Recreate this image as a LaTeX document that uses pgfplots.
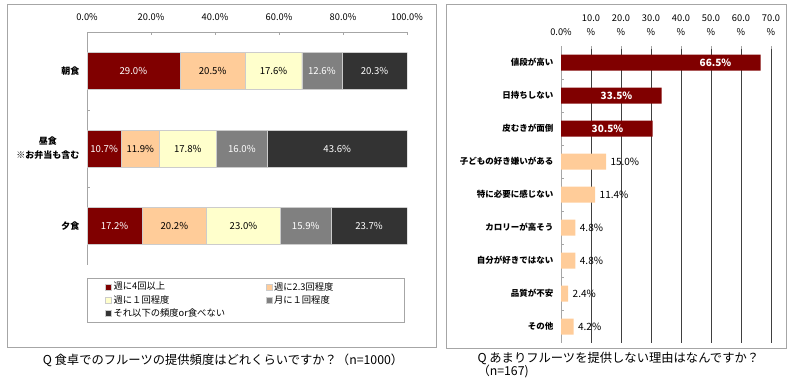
\documentclass[border=0pt]{standalone}
\usepackage{fontspec}
\setmainfont{Noto Sans CJK JP}
\usepackage{pgfplots}
\pgfplotsset{compat=1.18}
\pgfkeys{/pgf/number format/assume math mode=true}
\definecolor{c1}{HTML}{800000}
\definecolor{c2}{HTML}{FFCC99}
\definecolor{c3}{HTML}{FFFFCC}
\definecolor{c4}{HTML}{808080}
\definecolor{c5}{HTML}{333333}
\definecolor{frame}{HTML}{A6A6A6}
\newcommand{\fs}[1]{\fontsize{#1}{#1}\selectfont}
\pgfplotsset{
  seg/.style={fill=#1, draw=gray!40, line width=0.4pt},
  sqlegend/.style={legend image code/.code={\path[##1] (0pt,-3pt) rectangle (6pt,3pt);}},
  leftgeom/.style={at={(87pt,113pt)}, anchor=south west, scale only axis, width=320pt, height=233pt,
    xmin=0, xmax=100, ymin=-0.5, ymax=2.5, y dir=reverse},
  seglabel/.style={draw=none, mark=none, point meta=explicit symbolic, nodes near coords,
    nodes near coords align={anchor=center},
    every node near coord/.style={anchor=center, text=#1, font=\fs{9.6}}}
}
\begin{document}
\begin{tikzpicture}
\path[use as bounding box] (0pt,0pt) rectangle (800pt,378pt);
\draw[frame, line width=0.8pt] (7pt,31pt) rectangle (436pt,374pt);
\draw[frame, line width=0.8pt] (446pt,30pt) rectangle (786pt,374pt);
\begin{axis}[
  leftgeom,
  xbar stacked, bar width=37pt,
  axis x line*=top, axis y line*=left,
  axis line style={draw=frame, line width=0.6pt},
  tick align=inside, major tick length=3pt, tick style={draw=frame},
  xtick={0,20,40,60,80,100},
  xticklabels={0.0\%,20.0\%,40.0\%,60.0\%,80.0\%,100.0\%},
  xticklabel style={font=\fs{9.3}, yshift=8pt},
  ytick={0.5,1.5}, yticklabels={},
  extra y ticks={0,1,2}, extra y tick labels={朝食,{昼食\\※お弁当も含む},夕食},
  extra y tick style={major tick length=0pt, yticklabel style={align=center, font=\fontsize{9}{14}\selectfont\bfseries, xshift=-4pt}},
  legend columns=2, legend cell align=left,
  legend style={at={(axis description cs:0,0)}, anchor=north west, yshift=-13pt, draw=frame, font=\fs{9.3}, inner xsep=18pt, inner ysep=2pt, row sep=0pt},
  every axis plot/.append style={sqlegend},
]
\addplot[seg=c1] coordinates {(29.0,0) (10.7,1) (17.2,2)};
\addlegendentry{\makebox[150pt][l]{週に4回以上}}
\addplot[seg=c2] coordinates {(20.5,0) (11.9,1) (20.2,2)};
\addlegendentry{\makebox[110pt][l]{週に2.3回程度}}
\addplot[seg=c3] coordinates {(17.6,0) (17.8,1) (23.0,2)};
\addlegendentry{\makebox[150pt][l]{週に１回程度}}
\addplot[seg=c4] coordinates {(12.6,0) (16.0,1) (15.9,2)};
\addlegendentry{\makebox[110pt][l]{月に１回程度}}
\addplot[seg=c5] coordinates {(20.3,0) (43.6,1) (23.7,2)};
\addlegendentry{\makebox[150pt][l]{それ以下の頻度or食べない}}
\end{axis}
% segment labels at the centre of each stacked segment
\begin{axis}[leftgeom, hide axis]
\addplot[seglabel=white] coordinates {
  (14.5,0) [29.0\%] (5.35,1) [10.7\%] (8.6,2) [17.2\%]
  (73.4,0) [12.6\%] (48.4,1) [16.0\%] (68.35,2) [15.9\%]
  (89.85,0) [20.3\%] (78.2,1) [43.6\%] (88.15,2) [23.7\%]};
\addplot[seglabel=black] coordinates {
  (39.25,0) [20.5\%] (16.65,1) [11.9\%] (27.3,2) [20.2\%]
  (58.3,0) [17.6\%] (31.5,1) [17.8\%] (48.9,2) [23.0\%]};
\end{axis}
\begin{axis}[
  at={(561pt,35pt)}, anchor=south west, scale only axis, width=210pt, height=297pt,
  xbar, bar width=16pt, bar shift=0pt,
  xmin=0, xmax=70, ymin=-0.5, ymax=8.5, y dir=reverse,
  axis x line*=top, axis y line*=left,
  x axis line style={draw=none}, y axis line style={draw=frame, line width=0.6pt},
  xmajorgrids, grid style={draw=black!75, line width=0.6pt},
  tick align=inside, major tick length=3pt, tick style={draw=frame},
  xtick={0,10,20,30,40,50,60,70},
  xticklabels={0.0\%,{10.0\\\%},{20.0\\\%},{30.0\\\%},{40.0\\\%},{50.0\\\%},{60.0\\\%},{70.0\\\%}},
  xticklabel style={align=center, anchor=south, font=\fontsize{9.3}{14}\selectfont, yshift=7pt},
  ytick={0.5,1.5,2.5,3.5,4.5,5.5,6.5,7.5}, yticklabels={},
  extra y ticks={0,1,2,3,4,5,6,7,8},
  extra y tick labels={値段が高い,日持ちしない,皮むきが面倒,子どもの好き嫌いがある,特に必要に感じない,カロリーが高そう,自分が好きではない,品質が不安,その他},
  extra y tick style={major tick length=0pt, yticklabel style={font=\fs{8.5}\bfseries, xshift=-4pt}},
  point meta=x,
]
\addplot[fill=c1, draw=none, nodes near coords={\pgfmathprintnumber[fixed,fixed zerofill,precision=1]{\pgfplotspointmeta}\%},
  every node near coord/.style={anchor=center, xshift=-45pt, text=white, font=\fs{10}\bfseries}]
  coordinates {(66.5,0) (33.5,1) (30.5,2)};
\addplot[fill=c2, draw=none, nodes near coords={\pgfmathprintnumber[fixed,fixed zerofill,precision=1]{\pgfplotspointmeta}\%},
  every node near coord/.style={anchor=west, xshift=1pt, text=black, font=\fs{10}}]
  coordinates {(15.0,3) (11.4,4) (4.8,5) (4.8,6) (2.4,7) (4.2,8)};
\end{axis}
\node[font=\fs{12.3}] at (223pt,18pt) {Q 食卓でのフルーツの提供頻度はどれくらいですか？（n=1000）};
\node[anchor=west, font=\fs{12.3}] at (474pt,20pt) {Q あまりフルーツを提供しない理由はなんですか？};
\node[anchor=west, font=\fs{12.3}] at (474pt,7pt) {（n=167)};
\end{tikzpicture}
\end{document}
